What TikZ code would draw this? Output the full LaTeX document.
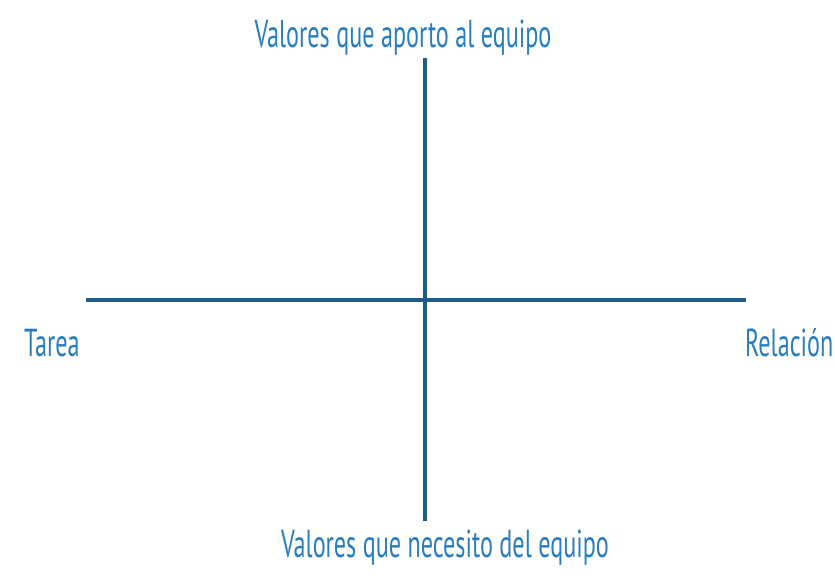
\documentclass[tikz,border=0pt]{standalone}
\usepackage{fontspec}
\setmainfont[FakeStretch=0.62]{PT Sans}
\definecolor{achse}{HTML}{1F5C88}
\definecolor{schrift}{HTML}{2A7DBC}
\tikzset{
  achsenlinie/.style={draw=achse, line width=3.6pt},
  beschriftung/.style={text=schrift, font=\fontsize{39}{42}\selectfont, inner sep=0pt}
}
\begin{document}
\begin{tikzpicture}[x=1pt,y=-1pt]
	\useasboundingbox (0,0) rectangle (835,584);

	%%%%%%%%%%%%%%%%%%%%%%%%%%%%%%%%%%%%%%%%%%%%%%%%%%%%%%%%%%%%%%%%%%%%%
	% Achsen
	\coordinate (oben) at (425,58);
	\coordinate (unten) at (425,521);
	\coordinate (links) at (86,300);
	\coordinate (rechts) at (746,300);
	\draw[achsenlinie] (oben) -- (unten);
	\draw[achsenlinie] (links) -- (rechts);

	%%%%%%%%%%%%%%%%%%%%%%%%%%%%%%%%%%%%%%%%%%%%%%%%%%%%%%%%%%%%%%%%%%%%%
	% Beschriftung
	\node[beschriftung] (aporto) at (403,38) {Valores que aporto al equipo};
	\node[beschriftung] (necesito) at (445,548) {Valores que necesito del equipo};
	\node[beschriftung, anchor=west] (tarea) at (24,343) {Tarea};
	\node[beschriftung, anchor=west] (relacion) at (745,343) {Relación};

\end{tikzpicture}
\end{document}
